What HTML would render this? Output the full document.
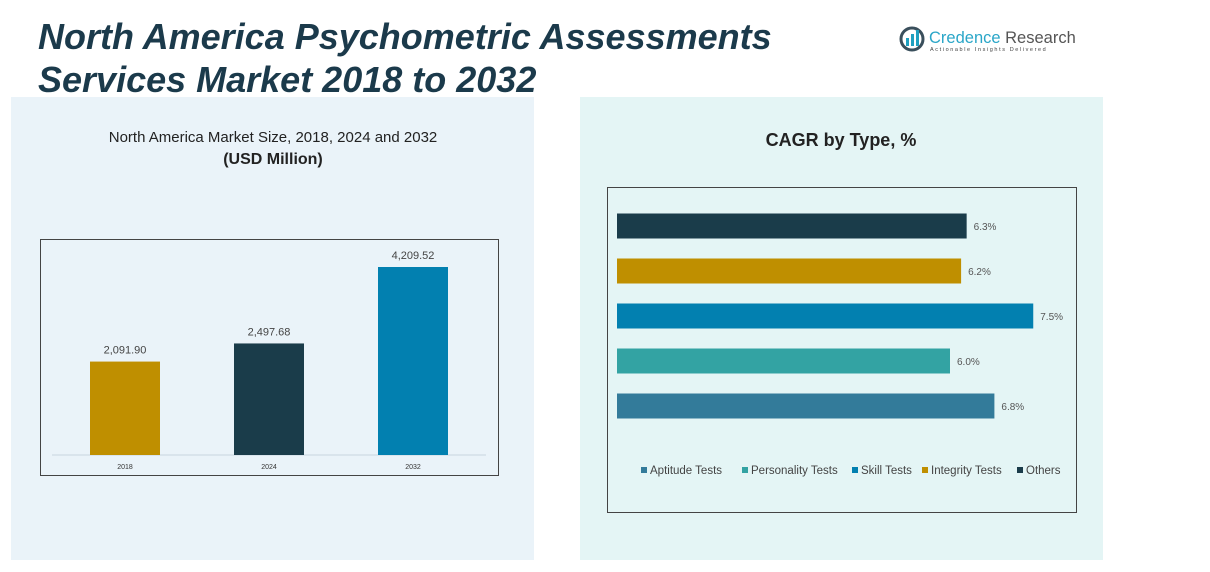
<!DOCTYPE html>
<html><head><meta charset="utf-8"><style>
body{margin:0;width:1210px;height:572px;background:#fff;position:relative;overflow:hidden;font-family:"Liberation Sans",sans-serif}
.title{position:absolute;left:38px;top:15px;font-size:36px;font-weight:bold;font-style:italic;color:#1b3a4b;line-height:43px}
svg{position:absolute;left:0;top:0}
</style></head><body>
<div class="title">North America Psychometric Assessments<br>Services Market 2018 to 2032</div>
<svg width="1210" height="572" id="chart">
<rect x="11" y="97" width="523" height="463" fill="#eaf3f9"/>
<rect x="580" y="97" width="523" height="463" fill="#e4f5f5"/>
<g>
<circle cx="912" cy="39" r="11" fill="none" stroke="#3a4f5c" stroke-width="3"/>
<rect x="906" y="38" width="3" height="8" fill="#1fa0c0"/><rect x="911" y="34" width="3" height="12" fill="#1fa0c0"/><rect x="916" y="30" width="3" height="16" fill="#1fa0c0"/>
<text x="929" y="43" font-size="16.5" fill="#2aa6c8">Credence <tspan fill="#555">Research</tspan></text>
<text x="930" y="51" font-size="5.5" fill="#444" letter-spacing="1.6">Actionable Insights Delivered</text>
</g>
<text x="273" y="142" font-size="15" fill="#222" text-anchor="middle">North America Market Size, 2018, 2024 and 2032</text>
<text x="273" y="164" font-size="16" font-weight="bold" fill="#222" text-anchor="middle">(USD Million)</text>
<rect x="40.5" y="239.5" width="458" height="236" fill="none" stroke="#444"/>
<line x1="52" y1="455" x2="486" y2="455" stroke="#c8d6de"/>
<text x="841" y="146" font-size="18" font-weight="bold" fill="#222" text-anchor="middle">CAGR by Type, %</text>
<rect x="607.5" y="187.5" width="469" height="325" fill="none" stroke="#444"/>
<g id="bars"></g><g id="hbars"></g><g id="legend"></g>
</svg>
<script>
const years=["2018","2024","2032"];
const sizes=[2091.90,2497.68,4209.52];
const sizeLabels=["2,091.90","2,497.68","4,209.52"];
const types=["Others","Integrity Tests","Skill Tests","Personality Tests","Aptitude Tests"];
const cagr=[6.3,6.2,7.5,6.0,6.8];
const legendOrder=["Aptitude Tests","Personality Tests","Skill Tests","Integrity Tests","Others"];
const NS="http://www.w3.org/2000/svg";
const colYear=["#bf8f00","#1a3c4a","#0280b0"];
const colType={"Others":"#1a3c4a","Integrity Tests":"#bf8f00","Skill Tests":"#0280b0","Personality Tests":"#33a3a3","Aptitude Tests":"#337b9a"};
function mk(t,a,p){const e=document.createElementNS(NS,t);for(const k in a)e.setAttribute(k,a[k]);p.appendChild(e);return e;}
const yS=v=>455-v*(188/4209.52);
const xC=i=>125+i*144;
const g=document.getElementById('bars');
years.forEach((y,i)=>{
 const r=mk('rect',{x:xC(i)-35,y:yS(sizes[i]),width:70,height:455-yS(sizes[i]),fill:colYear[i]},g);
 
 
 const t=mk('text',{x:xC(i),y:yS(sizes[i])-8,'font-size':11,fill:'#444','text-anchor':'middle'},g);t.textContent=sizeLabels[i];
 
 
 const l=mk('text',{x:xC(i),y:469,'font-size':7,fill:'#333','text-anchor':'middle'},g);l.textContent=y;
 
 
});
const xS=v=>617+v*55.5;
const yB=i=>226+i*45;
const h=document.getElementById('hbars');
types.forEach((tp,i)=>{
 const r=mk('rect',{x:617,y:yB(i)-12.5,width:xS(cagr[i])-617,height:25,fill:colType[tp]},h);
 
 
 const t=mk('text',{x:xS(cagr[i])+7,y:yB(i)+4,'font-size':10,fill:'#555'},h);t.textContent=cagr[i].toFixed(1)+'%';
 
 
});
const lg=document.getElementById('legend');
const lx=[641,742,852,922,1017];
legendOrder.forEach((n,i)=>{
 const s=mk('rect',{x:lx[i],y:467,width:6,height:6,fill:colType[n]},lg);
 
 
 const t=mk('text',{x:lx[i]+9,y:474,'font-size':11.5,fill:'#444'},lg);t.textContent=n;
 
 
});
</script>
</body></html>
